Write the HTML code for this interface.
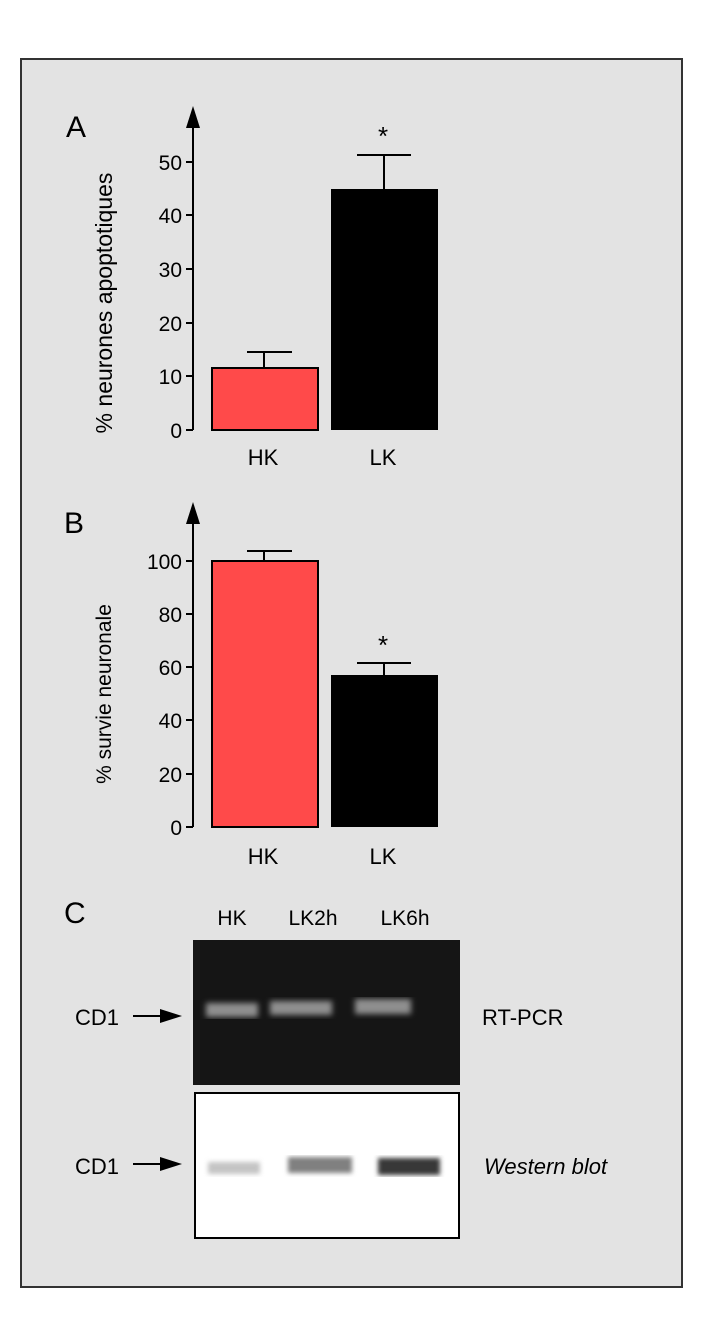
<!DOCTYPE html>
<html><head><style>
body{margin:0;background:#fff;}
svg{display:block;font-family:"Liberation Sans","DejaVu Sans",sans-serif;}
</style></head><body>
<svg width="703" height="1338" viewBox="0 0 703 1338">
<defs>
<filter id="blur"><feGaussianBlur stdDeviation="3"/></filter>
<filter id="blur2"><feGaussianBlur stdDeviation="2.5"/></filter>
</defs>
<rect x="21" y="59" width="661" height="1228" fill="#e3e3e3" stroke="#333" stroke-width="2"/>
<!-- A -->
<text x="66" y="137" font-size="30">A</text>
<line x1="193" y1="125" x2="193" y2="430" stroke="#000" stroke-width="2"/>
<polygon points="193,106 186,128 200,128" fill="#000"/>
<g stroke="#000" stroke-width="2">
<line x1="186" y1="430" x2="193" y2="430"/><line x1="186" y1="376" x2="193" y2="376"/>
<line x1="186" y1="323" x2="193" y2="323"/><line x1="186" y1="269" x2="193" y2="269"/>
<line x1="186" y1="215" x2="193" y2="215"/><line x1="186" y1="162" x2="193" y2="162"/>
</g>
<g font-size="21" text-anchor="end">
<text x="182" y="438">0</text><text x="182" y="384">10</text><text x="182" y="331">20</text>
<text x="182" y="277">30</text><text x="182" y="223">40</text><text x="182" y="170">50</text>
</g>
<text transform="translate(112,303) rotate(-90)" font-size="23" text-anchor="middle">%  neurones apoptotiques</text>
<rect x="212" y="368" width="106" height="62" fill="#ff4a4a" stroke="#000" stroke-width="2"/>
<line x1="264" y1="368" x2="264" y2="352" stroke="#000" stroke-width="2"/>
<line x1="247" y1="352" x2="292" y2="352" stroke="#000" stroke-width="2"/>
<rect x="331" y="189" width="107" height="241" fill="#000"/>
<line x1="384" y1="189" x2="384" y2="155" stroke="#000" stroke-width="2"/>
<line x1="357" y1="155" x2="411" y2="155" stroke="#000" stroke-width="2"/>
<text x="383" y="145" font-size="26" text-anchor="middle">*</text>
<text x="263" y="465" font-size="22" text-anchor="middle">HK</text>
<text x="383" y="465" font-size="22" text-anchor="middle">LK</text>
<!-- B -->
<text x="64" y="533" font-size="30">B</text>
<line x1="193" y1="520" x2="193" y2="827" stroke="#000" stroke-width="2"/>
<polygon points="193,502 186,524 200,524" fill="#000"/>
<g stroke="#000" stroke-width="2">
<line x1="186" y1="827" x2="193" y2="827"/><line x1="186" y1="774" x2="193" y2="774"/>
<line x1="186" y1="720" x2="193" y2="720"/><line x1="186" y1="667" x2="193" y2="667"/>
<line x1="186" y1="614" x2="193" y2="614"/><line x1="186" y1="561" x2="193" y2="561"/>
</g>
<g font-size="21" text-anchor="end">
<text x="182" y="835">0</text><text x="182" y="782">20</text><text x="182" y="728">40</text>
<text x="182" y="675">60</text><text x="182" y="622">80</text><text x="182" y="569">100</text>
</g>
<text transform="translate(111,694) rotate(-90)" font-size="21" text-anchor="middle">% survie neuronale</text>
<rect x="212" y="561" width="106" height="266" fill="#ff4a4a" stroke="#000" stroke-width="2"/>
<line x1="264" y1="561" x2="264" y2="551" stroke="#000" stroke-width="2"/>
<line x1="247" y1="551" x2="292" y2="551" stroke="#000" stroke-width="2"/>
<rect x="331" y="675" width="107" height="152" fill="#000"/>
<line x1="384" y1="675" x2="384" y2="663" stroke="#000" stroke-width="2"/>
<line x1="357" y1="663" x2="411" y2="663" stroke="#000" stroke-width="2"/>
<text x="383" y="654" font-size="26" text-anchor="middle">*</text>
<text x="263" y="864" font-size="22" text-anchor="middle">HK</text>
<text x="383" y="864" font-size="22" text-anchor="middle">LK</text>
<!-- C -->
<text x="64" y="923" font-size="30">C</text>
<g font-size="21" text-anchor="middle">
<text x="232" y="925">HK</text><text x="313" y="925">LK2h</text><text x="405" y="925">LK6h</text>
</g>
<rect x="193" y="940" width="267" height="145" fill="#151515"/>
<g filter="url(#blur)" fill="#8f8f8f">
<rect x="206" y="1003" width="52" height="14"/>
<rect x="270" y="1001" width="62" height="14"/>
<rect x="355" y="999" width="56" height="15"/>
</g>
<rect x="195" y="1093" width="264" height="145" fill="#fff" stroke="#000" stroke-width="2"/>
<g filter="url(#blur2)">
<rect x="208" y="1162" width="52" height="12" fill="#c4c4c4"/>
<rect x="288" y="1157" width="64" height="16" fill="#808080"/>
<rect x="378" y="1158" width="62" height="17" fill="#383838"/>
</g>
<g font-size="22">
<text x="75" y="1025">CD1</text><text x="75" y="1174">CD1</text>
<text x="482" y="1025">RT-PCR</text>
<text x="484" y="1174" font-style="italic">Western blot</text>
</g>
<g stroke="#000" stroke-width="2">
<line x1="133" y1="1016" x2="165" y2="1016"/><line x1="133" y1="1164" x2="165" y2="1164"/>
</g>
<polygon points="160,1009 182,1016 160,1023" fill="#000"/>
<polygon points="160,1157 182,1164 160,1171" fill="#000"/>
</svg>
</body></html>
